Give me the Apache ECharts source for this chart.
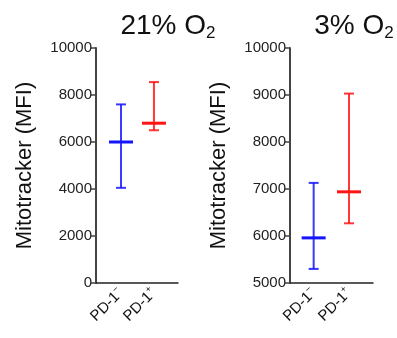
<!DOCTYPE html>
<html>
<head>
<meta charset="utf-8">
<script src="https://cdn.jsdelivr.net/npm/echarts@6/dist/echarts.min.js"></script>
<style>
  html, body { margin: 0; padding: 0; background: #fff; }
  #chart { width: 397px; height: 338px; }
</style>
</head>
<body>
<div id="chart"></div>
<script>
// groups on each x axis
const groups = ['PD-1-', 'PD-1+'];
const groupColors = ['#1414ff', '#ff1414'];

// 21% O2 panel
const mean21 = [6000, 6800];
const low21 = [4050, 6500];
const high21 = [7600, 8550];

// 3% O2 panel
const mean3 = [5960, 6940];
const low3 = [5300, 6270];
const high3 = [7130, 9030];

const yTicks21 = [0, 10000, 2000];
const yTicks3 = [5000, 10000, 1000];

const font = 'Liberation Sans, Arial, sans-serif';

function rows(mean, low, high) {
  return mean.map((m, i) => [i, low[i], high[i], m]);
}

function renderErrorBar(params, api) {
  const i = api.value(0);
  const lo = api.coord([i, api.value(1)]);
  const hi = api.coord([i, api.value(2)]);
  const mid = api.coord([i, api.value(3)]);
  const color = groupColors[i];
  const thin = { stroke: color, lineWidth: 2, opacity: 0.85 };
  return {
    type: 'group',
    children: [
      { type: 'line', shape: { x1: lo[0], y1: lo[1], x2: hi[0], y2: hi[1] }, style: thin },
      { type: 'line', shape: { x1: lo[0] - 5, y1: lo[1], x2: lo[0] + 5, y2: lo[1] }, style: thin },
      { type: 'line', shape: { x1: hi[0] - 5, y1: hi[1], x2: hi[0] + 5, y2: hi[1] }, style: thin },
      { type: 'line', shape: { x1: mid[0] - 12, y1: mid[1], x2: mid[0] + 12, y2: mid[1] },
        style: { stroke: color, lineWidth: 3 } }
    ]
  };
}

function xAxisFor(gridIndex, min, max) {
  return {
    type: 'value',
    gridIndex,
    min,
    max,
    splitLine: { show: false },
    axisLine: { show: true, onZero: false, lineStyle: { color: '#222', width: 1.5 } },
    axisTick: { show: false },
    axisLabel: {
      customValues: [0, 1],
      rotate: 45,
      margin: 8,
      formatter: (v) => {
        const g = groups[Math.round(v)];
        return '{b|' + g.slice(0, -1) + '}{s|' + (g.slice(-1) === '-' ? '−' : '+') + '}';
      },
      rich: {
        b: { fontSize: 15, color: '#111', fontFamily: font },
        s: { fontSize: 9, color: '#111', fontFamily: font, padding: [0, 0, 10, 0] }
      }
    }
  };
}

function yAxisFor(gridIndex, ticks) {
  return {
    type: 'value',
    gridIndex,
    min: ticks[0],
    max: ticks[1],
    interval: ticks[2],
    name: 'Mitotracker (MFI)',
    nameLocation: 'middle',
    nameGap: 60,
    nameTextStyle: { fontSize: 22, color: '#111', fontFamily: font },
    splitLine: { show: false },
    axisLine: { show: true, onZero: false, lineStyle: { color: '#444', width: 2 } },
    axisTick: { show: true, length: 5, lineStyle: { color: '#444', width: 1.5 } },
    axisLabel: { fontSize: 15, color: '#222', margin: 4, fontFamily: font,
      formatter: (v) => String(v) }
  };
}

function title(text, x) {
  return {
    text: '{a|' + text + '}{b|2}',
    left: x,
    top: 6,
    textAlign: 'center',
    textStyle: {
      rich: {
        a: { fontSize: 28, color: '#111', fontFamily: font, fontWeight: 'normal' },
        b: { fontSize: 17, color: '#111', fontFamily: font, fontWeight: 'normal', padding: [14, 0, 0, 0] }
      }
    }
  };
}

const chart = echarts.init(document.getElementById('chart'), null, { renderer: 'canvas' });

chart.setOption({
  animation: false,
  title: [title('21% O', 163), title('3% O', 349)],
  grid: [
    { left: 96, top: 48, width: 82, height: 235 },
    { left: 290, top: 48, width: 83, height: 235 }
  ],
  xAxis: [xAxisFor(0, -0.76, 1.73), xAxisFor(1, -0.67, 1.68)],
  yAxis: [yAxisFor(0, yTicks21), yAxisFor(1, yTicks3)],
  series: [
    { type: 'custom', xAxisIndex: 0, yAxisIndex: 0, renderItem: renderErrorBar,
      data: rows(mean21, low21, high21) },
    { type: 'custom', xAxisIndex: 1, yAxisIndex: 1, renderItem: renderErrorBar,
      data: rows(mean3, low3, high3) }
  ]
});
</script>
</body>
</html>
